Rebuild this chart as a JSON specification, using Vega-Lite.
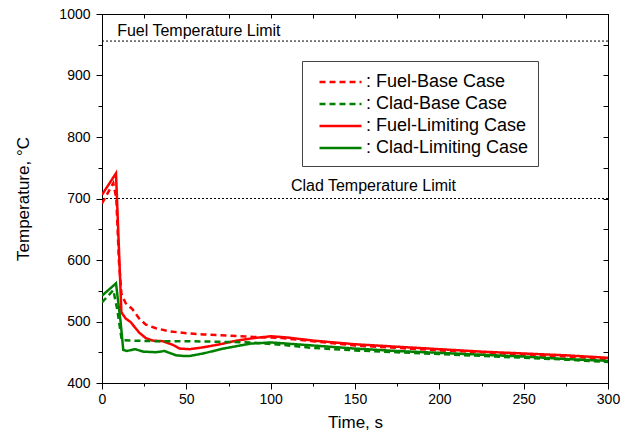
{
  "$schema": "https://vega.github.io/schema/vega-lite/v6.json",
  "width": 506,
  "height": 369,
  "autosize": "none",
  "padding": {"left": 102, "top": 14, "right": 21, "bottom": 58},
  "background": "white",
  "config": {
    "view": {"stroke": "black", "strokeWidth": 1},
    "font": "Liberation Sans",
    "axis": {
      "grid": false,
      "domainColor": "black",
      "tickColor": "black",
      "labelColor": "black",
      "titleColor": "black",
      "labelFont": "Liberation Sans",
      "titleFont": "Liberation Sans",
      "labelFontSize": 14,
      "titleFontSize": 17,
      "titleFontWeight": "normal"
    }
  },
  "datasets": {
    "series": [
      {"series": "Fuel-Limiting Case", "t": 0, "T": 706},
      {"series": "Fuel-Limiting Case", "t": 8.3, "T": 741},
      {"series": "Fuel-Limiting Case", "t": 11.5, "T": 515},
      {"series": "Fuel-Limiting Case", "t": 14, "T": 505},
      {"series": "Fuel-Limiting Case", "t": 17, "T": 499},
      {"series": "Fuel-Limiting Case", "t": 22, "T": 482},
      {"series": "Fuel-Limiting Case", "t": 26, "T": 473},
      {"series": "Fuel-Limiting Case", "t": 30, "T": 469},
      {"series": "Fuel-Limiting Case", "t": 36, "T": 468},
      {"series": "Fuel-Limiting Case", "t": 42, "T": 462},
      {"series": "Fuel-Limiting Case", "t": 46, "T": 456},
      {"series": "Fuel-Limiting Case", "t": 52, "T": 455},
      {"series": "Fuel-Limiting Case", "t": 60, "T": 458},
      {"series": "Fuel-Limiting Case", "t": 70, "T": 463},
      {"series": "Fuel-Limiting Case", "t": 80, "T": 469},
      {"series": "Fuel-Limiting Case", "t": 90, "T": 473},
      {"series": "Fuel-Limiting Case", "t": 100, "T": 476},
      {"series": "Fuel-Limiting Case", "t": 110, "T": 474},
      {"series": "Fuel-Limiting Case", "t": 125, "T": 469},
      {"series": "Fuel-Limiting Case", "t": 150, "T": 463},
      {"series": "Fuel-Limiting Case", "t": 175, "T": 459},
      {"series": "Fuel-Limiting Case", "t": 200, "T": 455},
      {"series": "Fuel-Limiting Case", "t": 225, "T": 451},
      {"series": "Fuel-Limiting Case", "t": 250, "T": 448},
      {"series": "Fuel-Limiting Case", "t": 275, "T": 445},
      {"series": "Fuel-Limiting Case", "t": 300, "T": 441},

      {"series": "Fuel-Base Case", "t": 0, "T": 692},
      {"series": "Fuel-Base Case", "t": 6.7, "T": 725},
      {"series": "Fuel-Base Case", "t": 8.5, "T": 700},
      {"series": "Fuel-Base Case", "t": 10, "T": 600},
      {"series": "Fuel-Base Case", "t": 11.5, "T": 545},
      {"series": "Fuel-Base Case", "t": 14, "T": 530},
      {"series": "Fuel-Base Case", "t": 18, "T": 520},
      {"series": "Fuel-Base Case", "t": 22, "T": 505},
      {"series": "Fuel-Base Case", "t": 26, "T": 495},
      {"series": "Fuel-Base Case", "t": 32, "T": 489},
      {"series": "Fuel-Base Case", "t": 40, "T": 484},
      {"series": "Fuel-Base Case", "t": 50, "T": 481},
      {"series": "Fuel-Base Case", "t": 60, "T": 479},
      {"series": "Fuel-Base Case", "t": 75, "T": 477},
      {"series": "Fuel-Base Case", "t": 90, "T": 475},
      {"series": "Fuel-Base Case", "t": 107, "T": 473},
      {"series": "Fuel-Base Case", "t": 125, "T": 468},
      {"series": "Fuel-Base Case", "t": 150, "T": 461},
      {"series": "Fuel-Base Case", "t": 175, "T": 457},
      {"series": "Fuel-Base Case", "t": 200, "T": 453},
      {"series": "Fuel-Base Case", "t": 225, "T": 450},
      {"series": "Fuel-Base Case", "t": 250, "T": 446},
      {"series": "Fuel-Base Case", "t": 275, "T": 443},
      {"series": "Fuel-Base Case", "t": 300, "T": 439},

      {"series": "Clad-Limiting Case", "t": 0, "T": 542},
      {"series": "Clad-Limiting Case", "t": 8.3, "T": 562},
      {"series": "Clad-Limiting Case", "t": 11, "T": 500},
      {"series": "Clad-Limiting Case", "t": 12.6, "T": 454},
      {"series": "Clad-Limiting Case", "t": 14.6, "T": 452},
      {"series": "Clad-Limiting Case", "t": 19.6, "T": 455},
      {"series": "Clad-Limiting Case", "t": 24.5, "T": 451},
      {"series": "Clad-Limiting Case", "t": 32, "T": 450},
      {"series": "Clad-Limiting Case", "t": 37, "T": 452},
      {"series": "Clad-Limiting Case", "t": 44, "T": 445},
      {"series": "Clad-Limiting Case", "t": 48, "T": 444},
      {"series": "Clad-Limiting Case", "t": 52, "T": 444},
      {"series": "Clad-Limiting Case", "t": 60, "T": 448},
      {"series": "Clad-Limiting Case", "t": 72, "T": 456},
      {"series": "Clad-Limiting Case", "t": 88, "T": 464},
      {"series": "Clad-Limiting Case", "t": 100, "T": 466},
      {"series": "Clad-Limiting Case", "t": 125, "T": 461},
      {"series": "Clad-Limiting Case", "t": 150, "T": 456},
      {"series": "Clad-Limiting Case", "t": 175, "T": 452},
      {"series": "Clad-Limiting Case", "t": 200, "T": 449},
      {"series": "Clad-Limiting Case", "t": 225, "T": 446},
      {"series": "Clad-Limiting Case", "t": 250, "T": 443},
      {"series": "Clad-Limiting Case", "t": 275, "T": 439},
      {"series": "Clad-Limiting Case", "t": 300, "T": 436},

      {"series": "Clad-Base Case", "t": 0, "T": 531},
      {"series": "Clad-Base Case", "t": 6.7, "T": 551},
      {"series": "Clad-Base Case", "t": 9, "T": 520},
      {"series": "Clad-Base Case", "t": 11.7, "T": 470},
      {"series": "Clad-Base Case", "t": 16.6, "T": 469},
      {"series": "Clad-Base Case", "t": 30, "T": 468},
      {"series": "Clad-Base Case", "t": 50, "T": 468},
      {"series": "Clad-Base Case", "t": 70, "T": 467},
      {"series": "Clad-Base Case", "t": 88, "T": 466},
      {"series": "Clad-Base Case", "t": 107, "T": 462},
      {"series": "Clad-Base Case", "t": 125, "T": 457},
      {"series": "Clad-Base Case", "t": 150, "T": 453},
      {"series": "Clad-Base Case", "t": 175, "T": 450},
      {"series": "Clad-Base Case", "t": 200, "T": 447},
      {"series": "Clad-Base Case", "t": 225, "T": 444},
      {"series": "Clad-Base Case", "t": 250, "T": 441},
      {"series": "Clad-Base Case", "t": 275, "T": 438},
      {"series": "Clad-Base Case", "t": 300, "T": 434}
    ],
    "limits": [
      {"name": "Fuel Temperature Limit", "T": 956, "t": 9, "labelT": 972},
      {"name": "Clad Temperature Limit", "T": 700, "t": 112, "labelT": 720}
    ]
  },
  "resolve": {"axis": {"x": "independent", "y": "independent"}},
  "layer": [
    {
      "data": {"name": "series"},
      "mark": {"type": "line", "strokeWidth": 2.5, "clip": true},
      "encoding": {
        "x": {
          "field": "t", "type": "quantitative",
          "scale": {"domain": [0, 300], "nice": false, "zero": false},
          "axis": {
            "title": "Time, s",
            "values": [0, 25, 50, 75, 100, 125, 150, 175, 200, 225, 250, 275, 300],
            "labelExpr": "datum.value % 50 === 0 ? datum.label : ''",
            "tickSize": {"condition": {"test": "datum.value % 50 === 0", "value": 6}, "value": 3},
            "labelPadding": 3,
            "titlePadding": 8,
            "labelFlush": false
          }
        },
        "y": {
          "field": "T", "type": "quantitative",
          "scale": {"domain": [400, 1000], "nice": false, "zero": false},
          "axis": {
            "title": "Temperature, °C",
            "values": [400, 450, 500, 550, 600, 650, 700, 750, 800, 850, 900, 950, 1000],
            "labelExpr": "datum.value % 100 === 0 ? datum.label : ''",
            "tickSize": {"condition": {"test": "datum.value % 100 === 0", "value": 6}, "value": 4},
            "labelPadding": 6,
            "titlePadding": 26,
            "labelFlush": false,
            "format": "d"
          }
        },
        "color": {
          "field": "series", "type": "nominal",
          "scale": {
            "domain": ["Fuel-Base Case", "Clad-Base Case", "Fuel-Limiting Case", "Clad-Limiting Case"],
            "range": ["#ff0000", "#008000", "#ff0000", "#008000"]
          },
          "legend": {
            "orient": "none",
            "legendX": 200,
            "legendY": 47,
            "title": null,
            "symbolType": "M-1,0L3,0",
            "symbolStrokeWidth": 2.5,
            "symbolSize": 441,
            "symbolOffset": 7,
            "labelFont": "Liberation Sans",
            "labelFontSize": 18,
            "labelColor": "black",
            "labelLimit": 400,
            "labelExpr": "': ' + datum.label + '\u00a0\u00a0\u00a0'",
            "strokeColor": "#444",
            "fillColor": "white",
            "padding": 9,
            "rowPadding": 1,
            "labelOffset": 24
          }
        },
        "strokeDash": {
          "field": "series", "type": "nominal",
          "scale": {
            "domain": ["Fuel-Base Case", "Clad-Base Case", "Fuel-Limiting Case", "Clad-Limiting Case"],
            "range": [[6, 4], [6, 4], [1, 0], [1, 0]]
          },
          "legend": null
        }
      }
    },
    {
      "data": {"name": "limits"},
      "mark": {"type": "rule", "color": "black", "strokeWidth": 1, "strokeDash": [2, 2]},
      "encoding": {
        "y": {
          "field": "T", "type": "quantitative",
          "axis": {
            "orient": "right", "title": null, "labels": false,
            "values": [400, 450, 500, 550, 600, 650, 700, 750, 800, 850, 900, 950, 1000],
            "tickSize": -5
          }
        }
      }
    },
    {
      "data": {"name": "limits"},
      "mark": {"type": "text", "align": "left", "baseline": "middle", "fontSize": 16, "font": "Liberation Sans", "color": "black"},
      "encoding": {
        "x": {
          "field": "t", "type": "quantitative",
          "axis": {
            "orient": "top", "title": null, "labels": false,
            "values": [0, 25, 50, 75, 100, 125, 150, 175, 200, 225, 250, 275, 300],
            "tickSize": -4
          }
        },
        "y": {"field": "labelT", "type": "quantitative", "axis": null},
        "text": {"field": "name"}
      }
    }
  ]
}
